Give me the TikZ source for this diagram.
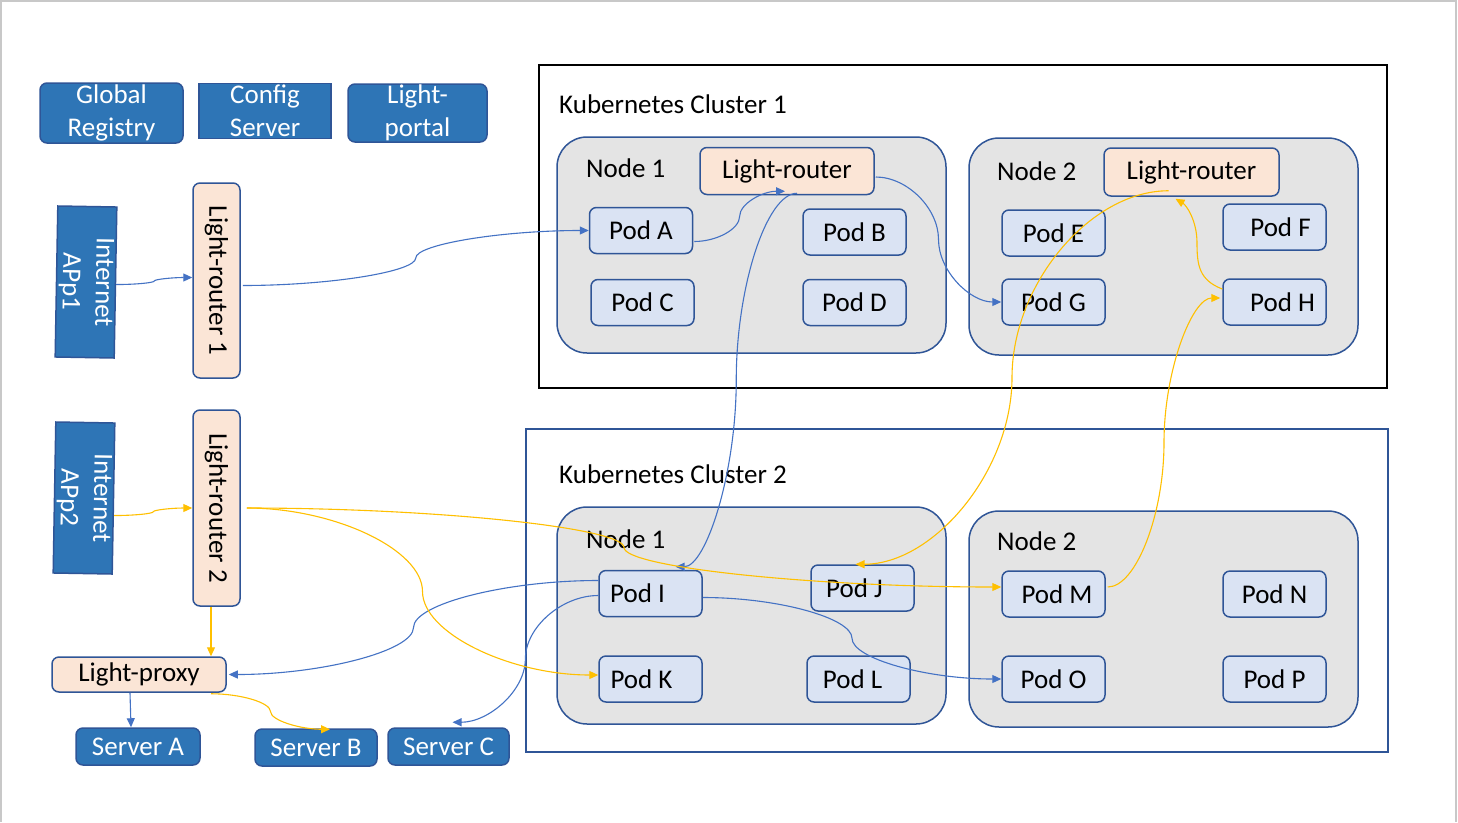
\documentclass[tikz,border=0pt]{standalone}
\usepackage{fontspec}
\setmainfont{Carlito}
\usetikzlibrary{arrows.meta,calc}
\definecolor{boxblue}{HTML}{2E75B6}
\definecolor{edgeblue}{HTML}{2F5597}
\definecolor{peach}{HTML}{FBE5D6}
\definecolor{podfill}{HTML}{DAE3F3}
\definecolor{nodegray}{HTML}{E4E4E4}
\definecolor{lineblue}{HTML}{4472C4}
\definecolor{lineorange}{HTML}{FFC000}
\definecolor{pagegray}{HTML}{C8C8C8}
\begin{document}
\begin{tikzpicture}[x=1pt,y=-1pt,font=\fontsize{27}{33}\selectfont,
  box/.style={draw=edgeblue,line width=1.5pt,inner sep=0pt,align=center},
  bluebox/.style={box,fill=boxblue,text=white,rounded corners=7pt},
  sqbox/.style={box,fill=boxblue,text=white},
  router/.style={box,fill=peach,rounded corners=7pt},
  pod/.style={box,fill=podfill,rounded corners=7pt,minimum width=103pt,minimum height=46pt},
  kbox/.style={draw=edgeblue,fill=nodegray,line width=1.5pt,rounded corners=30pt},
  lbl/.style={anchor=base west,inner sep=0pt},
  tip/.style={-{Triangle[length=9pt,width=8pt]}},
  bconn/.style={draw=lineblue,line width=1.1pt,tip},
  oconn/.style={draw=lineorange,line width=1.1pt,tip},
  cc/.style={to path={let \p1=(\tikztostart), \p2=(\tikztotarget) in
    .. controls ({\x1+#1*(\x2-\x1)/2},\y1) and ({\x1+#1*(\x2-\x1)},{\y1+(\y2-\y1)/4})
    .. ({\x1+#1*(\x2-\x1)},{(\y1+\y2)/2})
    .. controls ({\x1+#1*(\x2-\x1)},{\y1+3*(\y2-\y1)/4}) and ({(\x1+#1*(\x2-\x1)+\x2)/2},\y2)
    .. (\p2)}},
  cc/.default=0.5]
\useasboundingbox (0,0) rectangle (1458,822);
\fill[white] (0,0) rectangle (1458,822);
% page frame
\draw[pagegray,line width=2pt] (1,822) -- (1,1) -- (1456,1) -- (1456,822);

% top boxes
\node[bluebox,minimum width=143pt,minimum height=60pt] (greg) at (111.5,113) {Global\\Registry};
\node[sqbox,minimum width=132pt,minimum height=55pt] (cfg) at (265,111) {Config\\Server};
\node[bluebox,minimum width=139pt,minimum height=58pt] (lportal) at (417.5,113) {Light-\\portal};

% internet and routers
\node[sqbox,rotate=-91,minimum width=151pt,minimum height=59pt] (inet1) at (86,282) {Internet\\APp1};
\node[sqbox,rotate=-91,minimum width=151pt,minimum height=59pt] (inet2) at (84,498) {Internet\\APp2};
\node[router,rotate=-90,minimum width=195pt,minimum height=47pt] (lr1) at (216.5,280.5) {Light-router 1};
\node[router,rotate=-90,minimum width=196pt,minimum height=47pt] (lr2) at (216.5,508) {Light-router 2};
\node[router,minimum width=174pt,minimum height=35pt] (proxy) at (139,674.5) {Light-proxy};
\node[bluebox,minimum width=124pt,minimum height=37pt] (srvA) at (138,746.5) {Server A};
\node[bluebox,minimum width=122pt,minimum height=37pt] (srvB) at (316,747.5) {Server B};
\node[bluebox,minimum width=121pt,minimum height=37pt] (srvC) at (448.5,746.5) {Server C};

% clusters
\draw[black,line width=2pt] (539,65) rectangle (1387,388);
\node[lbl] (k1) at (559,113) {Kubernetes Cluster 1};
\draw[edgeblue,line width=2pt] (526,429) rectangle (1388,752);
\node[lbl] (k2) at (559,483) {Kubernetes Cluster 2};

% kubernetes nodes
\draw[kbox] (557,137) rectangle (946,353);
\draw[kbox] (969,138) rectangle (1358,355);
\draw[kbox] (557,507) rectangle (946,724);
\draw[kbox] (969,511) rectangle (1358,727);
\node[lbl] (n11) at (586,177) {Node 1};
\node[lbl] (n12) at (997,180) {Node 2};
\node[lbl] (n21) at (586,548) {Node 1};
\node[lbl] (n22) at (997,550) {Node 2};

% light routers in nodes
\node[router,minimum width=174pt,minimum height=47pt] (lrA) at (787,171) {Light-router};
\node[router,minimum width=175pt,minimum height=48pt] (lrB) at (1191.5,172) {Light-router};

% pods
\node[pod] (podA) at (641,230.5) {Pod A};
\node[pod] (podB) at (854.5,232) {Pod B};
\node[pod] (podC) at (642.5,302.5) {Pod C};
\node[pod] (podD) at (854.5,302.5) {Pod D};
\node[pod] (podE) at (1053.5,233) {Pod E};
\node[pod] (podF) at (1274.5,227) {\hspace*{12pt}Pod F};
\node[pod] (podG) at (1053.5,302) {Pod G};
\node[pod] (podH) at (1274.5,302) {\hspace*{16pt}Pod H};
\node[pod] (podI) at (650.5,593.5) {Pod I\hspace*{26pt}};
\node[pod] (podJ) at (862.5,588) {Pod J\hspace*{16pt}};
\node[pod] (podK) at (650.5,679) {Pod K\hspace*{18pt}};
\node[pod] (podL) at (858.5,679) {Pod L\hspace*{12pt}};
\node[pod] (podM) at (1053.5,594) {\hspace*{7pt}Pod M};
\node[pod] (podN) at (1274.5,594) {Pod N};
\node[pod] (podO) at (1053.5,679) {Pod O};
\node[pod] (podP) at (1274.5,679) {Pod P};

% blue connectors
\draw[bconn] ($(inet1.north)+(0,2)$) to[cc] ($(lr1.south)+(0,-3)$);
\draw[bconn] ($(lr1.north)+(2,5)$) to[cc] (podA.west);
\draw[bconn] ($(podA.east)+(1,11)$) to[cc] ($(lrA.south)+(-2,-4)$);
\draw[bconn] ($(lrA.east)+(1,6)$) to[cc] (podG.west);
\draw[bconn] ($(lrA.south)+(10,-2)$) to[cc] ($(podI.north)+(25,-3)$);
\draw[bconn] ($(podI.west)+(0,-13)$) to[cc] ($(proxy.east)+(2,0)$);
\draw[bconn] ($(podI.west)+(0,2)$) to[cc] ($(srvC.north)+(4,-5)$);
\draw[bconn] ($(podI.east)+(0,4)$) to[cc] (podO.west);
\draw[bconn] ($(proxy.south)+(-9,0)$) -- ($(srvA.north)+(-7,0)$);

% orange connectors
\draw[oconn] ($(inet2.north)+(0,17)$) to[cc] (lr2.south);
\draw[oconn] ($(lr2.north)+(6,0)$) to[cc] ($(podM.west)+(0,-7)$);
\draw[oconn] ($(lr2.north)+(6,0)$) to[cc] ($(podK.west)+(0,-4)$);
\draw[oconn] ($(lr2.east)+(-5.5,0)$) -- ($(proxy.north)+(72,0)$);
\draw[oconn] ($(proxy.south)+(72,1)$) to[cc] ($(srvB.north)+(14,1)$);
\draw[oconn] ($(podM.east)+(2,-7)$) to[cc] ($(podH.west)+(-2,-4)$);
\draw[oconn] ($(podH.west)+(0,-13)$) .. controls (1199,280) and (1197,265) .. (1197,243) .. controls (1197,220) and (1186,205) .. ($(lrB.south)+(-16,2)$);
\draw[oconn] ($(lrB.south)+(-23,-6)$) to[cc] ($(podJ.north)+(-7,0)$);
\end{tikzpicture}
\end{document}
